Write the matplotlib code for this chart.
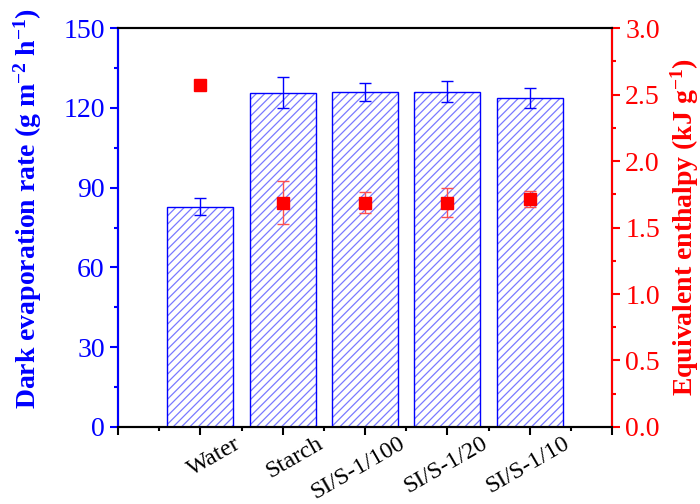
import numpy as np
import matplotlib
matplotlib.use('Agg')
import matplotlib.pyplot as plt
from matplotlib.transforms import ScaledTranslation

plt.rcParams['font.family'] = ['Liberation Serif', 'DejaVu Serif']
plt.rcParams['mathtext.fontset'] = 'custom'
plt.rcParams['mathtext.rm'] = 'Liberation Serif'
plt.rcParams['mathtext.bf'] = 'Liberation Serif:bold'
plt.rcParams['mathtext.default'] = 'bf'
plt.rcParams['hatch.linewidth'] = 0.9

samples = ['Water', 'Starch', 'SI/S-1/100', 'SI/S-1/20', 'SI/S-1/10']
rate = [82.8, 125.7, 125.9, 126.0, 123.7]
rate_err = [3.2, 5.8, 3.5, 4.0, 3.7]
enthalpy = [2.57, 1.687, 1.687, 1.687, 1.712]
enthalpy_err = [0.0, 0.16, 0.08, 0.11, 0.06]

blue = '#0000ff'
red = '#ff0000'

fig = plt.figure(figsize=(7, 5.04), dpi=100)
ax = fig.add_axes([0.1686, 0.1528, 0.7057, 0.7916])
x = np.arange(1, len(samples) + 1)

# hatch in light blue, outline in full blue
ax.bar(x, rate, width=0.8, color='white', edgecolor='#7a7aff', hatch='////', linewidth=0)
ax.bar(x, rate, width=0.8, color='none', edgecolor=blue, linewidth=1.0)
ax.errorbar(x, rate, yerr=rate_err, fmt='none', ecolor=blue, elinewidth=1.0, capsize=4, capthick=1.0)

ax.set_xlim(0, 6)
ax.set_ylim(0, 150)
ax.set_xticks(range(0, 7))
ax.set_xticks(np.arange(0.5, 6, 1), minor=True)
ax.set_yticks(np.arange(0, 151, 30))
ax.set_yticks(np.arange(15, 150, 30), minor=True)
ax.tick_params(axis='x', which='major', length=6, width=1.5, direction='out', pad=2)
ax.tick_params(axis='x', which='minor', length=3, width=1.5, direction='out')
ax.tick_params(axis='y', which='major', length=6, width=1.5, colors=blue, labelsize=20)
ax.tick_params(axis='y', which='minor', length=3, width=1.5, colors=blue)
ax.set_xticklabels([''] + samples + [''], rotation=30, ha='right', va='top',
                   rotation_mode='anchor', fontsize=17.5)
# labels sit to the right of their ticks, as in the original
shift = ScaledTranslation(0.33, 0.05, fig.dpi_scale_trans)
for lbl in ax.get_xticklabels():
    lbl.set_transform(lbl.get_transform() + shift)
ax.set_ylabel('Dark evaporation rate (g m$^{-2}$ h$^{-1}$)', color=blue, fontsize=20, fontweight='bold')
ax.yaxis.set_label_coords(-0.15, 0.548)

ax2 = ax.twinx()
ax2.errorbar(x, enthalpy, yerr=enthalpy_err, fmt='s', color=red, ecolor='#ff5050', markersize=8,
             elinewidth=1.0, capsize=4, capthick=1.0)
ax2.set_ylim(0, 3.0)
ax2.set_yticks(np.arange(0, 3.01, 0.5))
ax2.set_yticks(np.arange(0.25, 3.0, 0.5), minor=True)
ax2.yaxis.set_major_formatter(matplotlib.ticker.FormatStrFormatter('%.1f'))
ax2.tick_params(axis='y', which='major', length=6, width=1.5, colors=red, labelsize=20)
ax2.tick_params(axis='y', which='minor', length=3, width=1.5, colors=red)
ax2.set_ylabel('Equivalent enthalpy (kJ g$^{-1}$)', color=red, fontsize=20, fontweight='bold', labelpad=6)

for a in (ax, ax2):
    for s in a.spines.values():
        s.set_linewidth(1.5)
ax2.spines['left'].set_color(blue)
ax2.spines['right'].set_color(red)
ax2.spines['top'].set_color('black')
ax2.spines['bottom'].set_color('black')

fig.savefig('out.png', dpi=100)
